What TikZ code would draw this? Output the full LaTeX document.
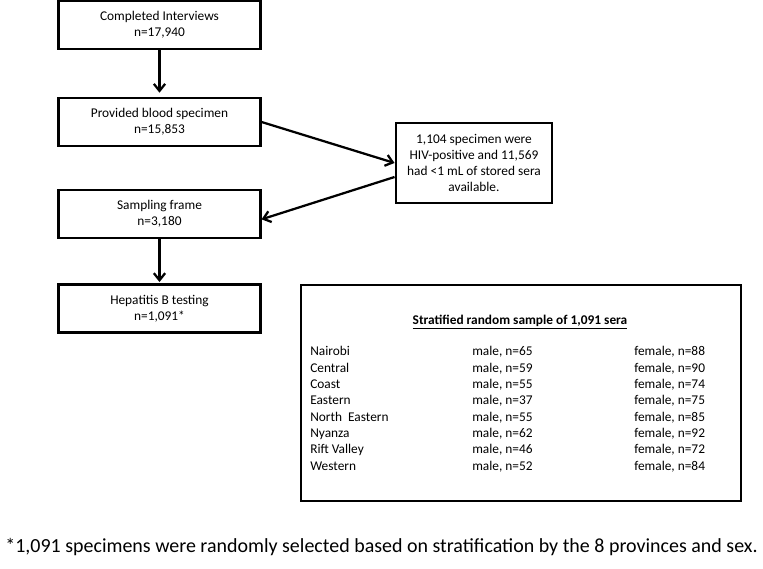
\documentclass[tikz,border=0pt]{standalone}
\usepackage{fontspec}
\setmainfont{Carlito}
\usepackage{tikz}
\usetikzlibrary{positioning}
\usetikzlibrary{arrows.meta}

\begin{document}
\begin{tikzpicture}
      [x=0.025cm, y=-0.025cm,
       every node/.style={font=\fontsize{9.5}{11.5}\selectfont},
       box/.style={draw, line width=1.5pt, align=center, minimum width=5.05cm, minimum height=1.2cm},
       row/.style={anchor=base west, inner sep=0pt},
       flow/.style={->, >={Straight Barb[length=5pt, width=8pt]}, line width=1.6pt}]
      \useasboundingbox (0, 0) rectangle (763, 569);

      \node (interviews) [box] at (159.5, 25) {Completed Interviews\\n=17,940};
      \node (blood) [box] at (159.5, 122) {Provided blood specimen\\n=15,853};
      \node (frame) [box] at (159.5, 214) {Sampling frame\\n=3,180};
      \node (hepb) [box] at (159.5, 308.5) {Hepatitis B testing\\n=1,091*};
      \node (excluded) [box, minimum width=3.92cm, minimum height=2cm] at (474, 163)
        {1,104 specimen were\\HIV-positive and 11,569\\had <1 mL of stored sera\\available.};

      \draw [flow, shorten >=3pt] (interviews) -- (blood);
      \draw [flow] (blood.east) -- (excluded.west);
      \draw [flow] (excluded.190) -- (frame.-3);
      \draw [flow, shorten >=1pt] (frame) -- (hepb);

      % stratified sample
      \node (sample) [box, minimum width=11cm, minimum height=5.4cm] at (521, 393) {};
      \node (title) [] at (520, 322) {\textbf{\underline{Stratified random sample of 1,091 sera}}};
      \foreach \prov/\male/\female [count=\i from 0] in
        {Nairobi/65/88, Central/59/90, Coast/55/74, Eastern/37/75,
         North~ Eastern/55/85, Nyanza/62/92, Rift Valley/46/72, Western/52/84}
      {
        \node (p\i) [row] at (310, 356 + 16.3*\i) {\prov};
        \node (m\i) [row] at (472, 356 + 16.3*\i) {male, n=\male};
        \node (f\i) [row] at (634, 356 + 16.3*\i) {female, n=\female};
      }

      \node (note) [font=\fontsize{14.2}{17}\selectfont] at (381.5, 547)
        {*1,091 specimens were randomly selected based on stratification by the 8 provinces and sex.};
    \end{tikzpicture}
\end{document}
